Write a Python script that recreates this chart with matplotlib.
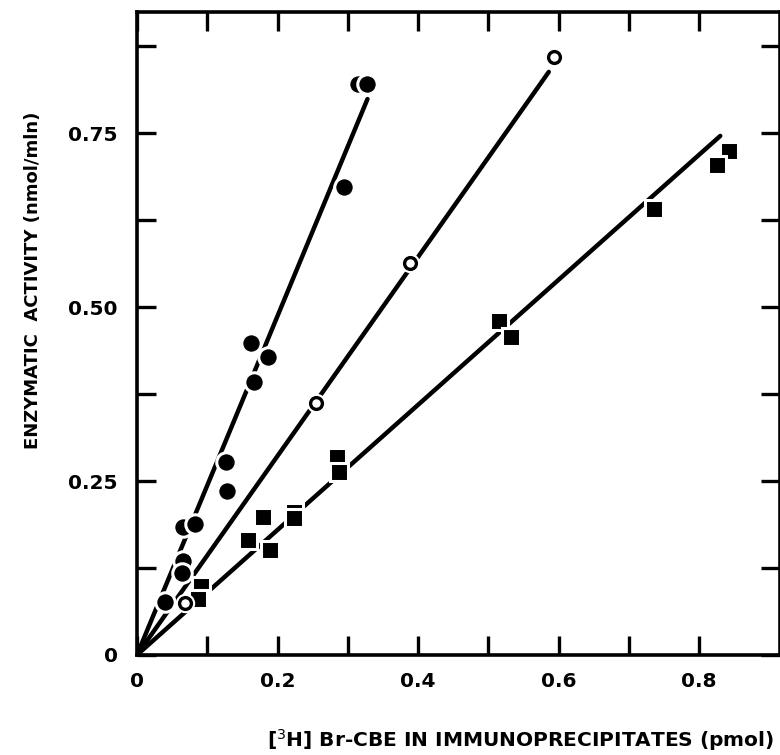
import matplotlib.pyplot as plt
import numpy as np

# filled circles
circ_x = [0.314, 0.327, 0.295, 0.162, 0.187, 0.167, 0.126, 0.128, 0.066, 0.083, 0.066, 0.064, 0.040]
circ_y = [0.820, 0.820, 0.672, 0.448, 0.428, 0.392, 0.277, 0.236, 0.184, 0.188, 0.135, 0.118, 0.076]
circ_fit = [0.0, 0.328]
circ_fit_y = [0.0, 0.799]

# open circles
open_x = [0.593, 0.388, 0.255, 0.068]
open_y = [0.859, 0.563, 0.362, 0.075]
open_fit = [0.0, 0.586]
open_fit_y = [0.0, 0.838]

# filled squares
sq_x = [0.843, 0.826, 0.735, 0.515, 0.532, 0.285, 0.287, 0.223, 0.223, 0.180,
        0.158, 0.190, 0.091, 0.087]
sq_y = [0.724, 0.704, 0.641, 0.480, 0.457, 0.284, 0.263, 0.205, 0.197, 0.198,
        0.165, 0.151, 0.099, 0.080]
sq_fit = [0.0, 0.830]
sq_fit_y = [0.0, 0.746]

x_ticks = [0, 0.1, 0.2, 0.3, 0.4, 0.5, 0.6, 0.7, 0.8]
x_labels = ['0', '', '0.2', '', '0.4', '', '0.6', '', '0.8']
y_ticks = [0, 0.125, 0.25, 0.375, 0.5, 0.625, 0.75, 0.875]
y_labels = ['0', '', '0.25', '', '0.50', '', '0.75', '']

fig = plt.figure(figsize=(7.8, 7.55), dpi=100)
ax = fig.add_axes([0.1756, 0.1325, 0.8244, 0.8515])

lw = 3.2
ax.plot(circ_fit, circ_fit_y, color='black', lw=lw, solid_capstyle='round', zorder=2)
ax.plot(open_fit, open_fit_y, color='black', lw=lw, solid_capstyle='round', zorder=2)
ax.plot(sq_fit, sq_fit_y, color='black', lw=lw, solid_capstyle='round', zorder=2)

ax.plot(circ_x, circ_y, 'o', ms=14, color='black', mec='white', mew=2.2, zorder=3)
ax.plot(sq_x, sq_y, 's', ms=13, color='black', mec='white', mew=2.2, zorder=3)
# open circles: white halo then ring
ax.plot(open_x, open_y, 'o', ms=12, color='white', mec='white', mew=2, zorder=3)
ax.plot(open_x, open_y, 'o', ms=8.5, mfc='white', mec='black', mew=2.4, zorder=4)

ax.set_xlim(0, 0.915)
ax.set_ylim(0, 0.924)

ax.set_xticks(x_ticks)
ax.set_xticklabels(x_labels)
ax.set_yticks(y_ticks)
ax.set_yticklabels(y_labels)
ax.tick_params(direction='in', length=14, width=2.4, top=True, right=True,
               labelsize=14.5)
ax.tick_params(axis='x', pad=12)
ax.tick_params(axis='y', pad=14)
for lab in ax.get_xticklabels() + ax.get_yticklabels():
    lab.set_fontweight('bold')
for s in ax.spines.values():
    s.set_linewidth(2.6)

fig.text(521 / 780, 1 - 740 / 755, '[$^3$H] Br-CBE IN IMMUNOPRECIPITATES (pmol)',
         ha='center', va='center', fontsize=14.5, fontweight='bold')
fig.text(33 / 780, 1 - 280 / 755, 'ENZYMATIC  ACTIVITY (nmol/mln)',
         rotation=90, ha='center', va='center', fontsize=13, fontweight='bold')

fig.savefig('out.png', dpi=100)
